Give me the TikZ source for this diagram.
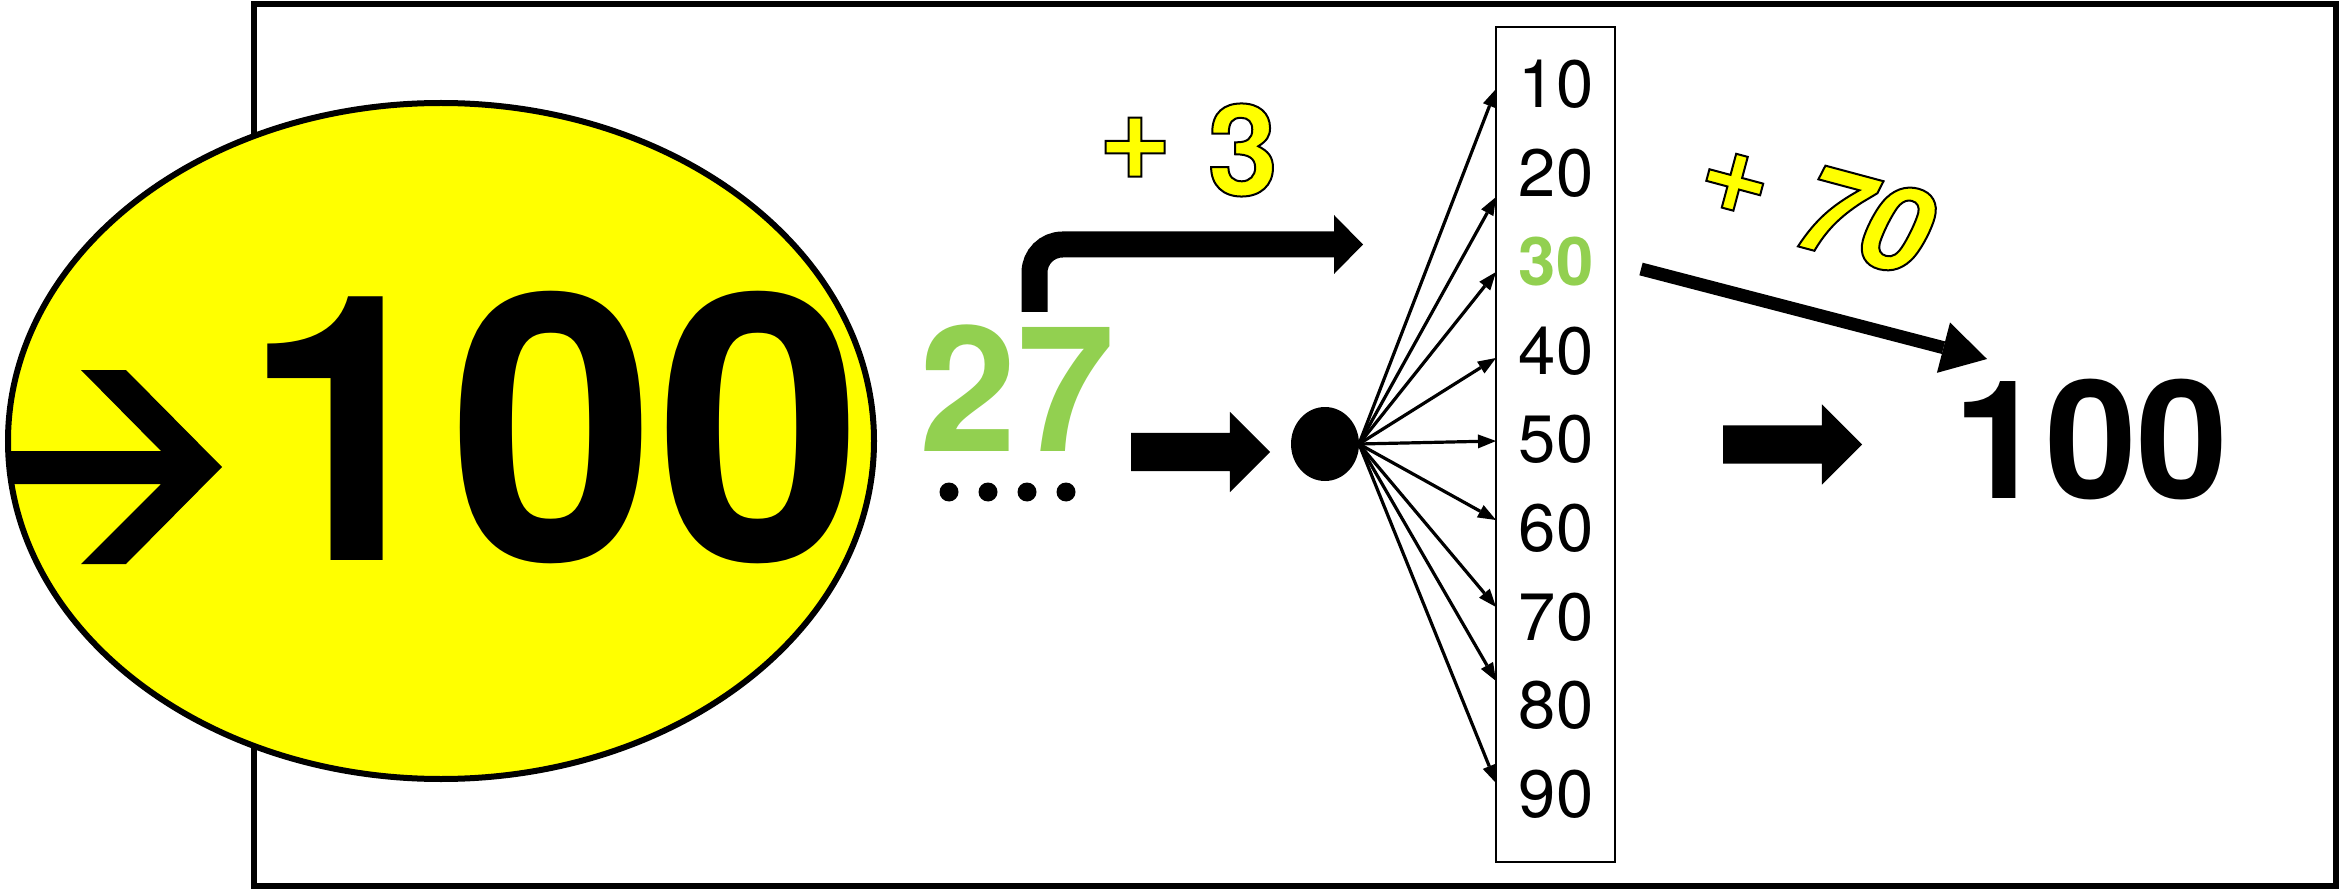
\documentclass[tikz,border=0pt]{standalone}
\usepackage{fontspec}
\setmainfont{TeX Gyre Heros}
\usetikzlibrary{shapes.geometric,shapes.arrows,arrows.meta}
\definecolor{ygreen}{HTML}{92D050}
\definecolor{yfill}{HTML}{FFFF00}
\newcommand{\outl}[1]{{\color{yfill}\special{pdf:literal direct 0 0 0 RG 2 w 2 Tr}#1\special{pdf:literal direct 0 Tr}}}
\newcommand{\hiplus}{\raisebox{0.13em}[0pt][0pt]{+}}
\begin{document}
\begin{tikzpicture}[x=1pt,y=-1pt,
  blockarrow/.style={single arrow, fill=black, draw=none, inner xsep=0pt, inner ysep=19pt,
    single arrow head extend=21pt, minimum height=139pt, outer sep=0pt, anchor=tip},
  fan/.style={line width=3.2pt, -{Triangle[length=18pt,width=14pt,line width=0pt]}},
  colnum/.style={font=\fontsize{67}{67}\selectfont, anchor=base, inner sep=0pt},
  dotn/.style={circle, fill=black, inner sep=0pt, minimum size=19pt}
]
\useasboundingbox (0,0) rectangle (2343,893);
% outer frame
\draw[line width=6pt] (254,4.5) rectangle (2336,886);
% yellow ellipse
\node[ellipse, draw, line width=6pt, fill=yfill, minimum width=866pt, minimum height=676pt, inner sep=0pt] (ell) at (441,441) {};
% arrow glyph inside ellipse
\fill (10,451) -- (161,451) -- (81,370) -- (126,370) -- (222,467) -- (126,564) -- (81,564) -- (161,484) -- (10,484) -- cycle;
% big 100
\node[font=\bfseries\fontsize{372}{372}\selectfont, anchor=base, inner sep=0pt] (big) at (553,560) {100};
% 27 and dots
\node[font=\bfseries\fontsize{175}{175}\selectfont, text=ygreen, anchor=base, inner sep=0pt] (n27) at (1017,451) {27};
\node[dotn] (d1) at (949,492) {};
\node[dotn] (d2) at (988,492) {};
\node[dotn] (d3) at (1027,492) {};
\node[dotn] (d4) at (1066,492) {};
% bent arrow and +3
\coordinate (b0) at (1034.5,312);
\coordinate (b1) at (1363,244.5);
\draw[line width=26pt, rounded corners=28pt, -{Triangle[length=29pt,width=59pt,line width=0pt]}] (b0) |- (b1);
\node[font=\bfseries\fontsize{127}{127}\selectfont, inner sep=0pt] (p3) at (1188,150) {\outl{\hiplus{} 3}};
% block arrow 1
\node[blockarrow] (a1) at (1270,452) {};
% black dot
\node[ellipse, fill=black, inner sep=0pt, minimum width=68pt, minimum height=74pt] (dot) at (1325,444) {};
% column box
\node[draw, line width=1.5pt, minimum width=119pt, minimum height=835pt, inner sep=0pt] (col) at (1555.5,444.5) {};
\node[colnum] (c10) at (1556,108) {10};
\node[colnum] (c20) at (1556,197) {20};
\node[colnum, font=\bfseries\fontsize{67}{67}\selectfont, text=ygreen] (c30) at (1556,286) {30};
\node[colnum] (c40) at (1556,374) {40};
\node[colnum] (c50) at (1556,462) {50};
\node[colnum] (c60) at (1556,551) {60};
\node[colnum] (c70) at (1556,640) {70};
\node[colnum] (c80) at (1556,728) {80};
\node[colnum] (c90) at (1556,817) {90};
% fan arrows
\coordinate (o) at (1359,444);
\foreach \n/\yy in {1/89,2/197,3/272,4/358,5/441,6/520,7/607,8/681,9/783}{
  \coordinate (t\n) at (1496,\yy);
  \draw[fan] (o) -- (t\n);
}
% diagonal arrow and +70
\coordinate (g0) at (1641,269);
\coordinate (g1) at (1987,359);
\draw[line width=13pt, -{Triangle[length=45pt,width=52pt,line width=0pt]}] (g0) -- (g1);
\node[font=\bfseries\itshape\fontsize{120}{120}\selectfont, rotate=-15, inner sep=0pt] (p70) at (1813,206) {\outl{\hiplus{} 70}};
% block arrow 2 and result
\node[blockarrow] (a2) at (1862,444.5) {};
\node[font=\bfseries\fontsize{165}{165}\selectfont, anchor=base, inner sep=0pt] (res) at (2091,498) {100};
\end{tikzpicture}
\end{document}
